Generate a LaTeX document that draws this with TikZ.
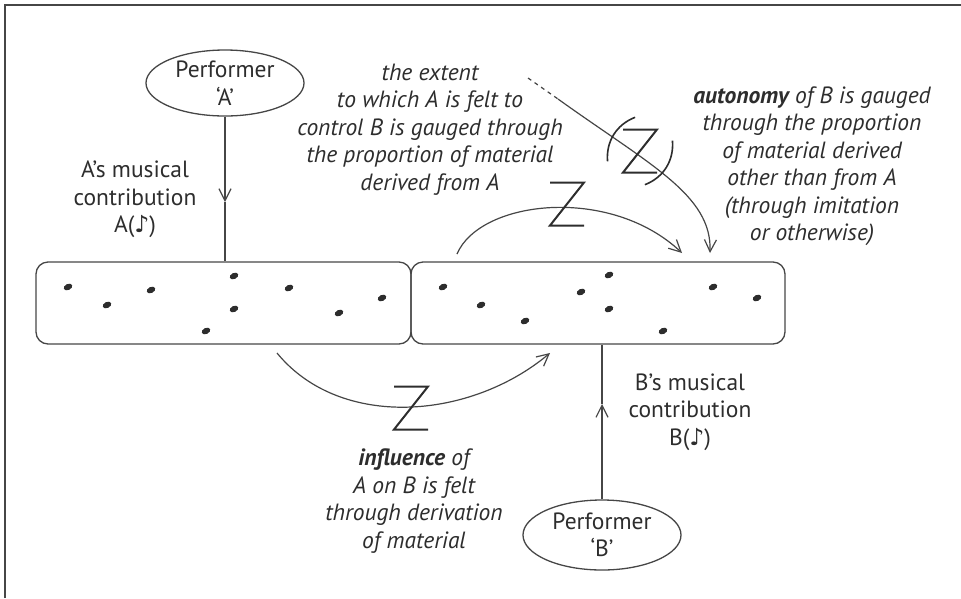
\documentclass[tikz,border=0pt]{standalone}
\usepackage{fontspec}
\setmainfont{PT Sans}
\newfontfamily\notefont{DejaVu Sans}
\usetikzlibrary{shapes.geometric, arrows.meta, positioning}
\definecolor{inkgray}{RGB}{45,45,45}
\definecolor{linegray}{RGB}{70,70,70}

\begin{document}
\begin{tikzpicture}[
        x=1pt, y=1pt,
        font=\fontsize{23.5}{27.5}\selectfont,
        perf/.style={ellipse, draw=linegray, line width=1.3pt, minimum width=158pt, minimum height=66pt, inner sep=0pt, align=center, text=inkgray},
        strip/.style={rectangle, rounded corners=12pt, draw=linegray, line width=1.3pt, minimum width=375pt, minimum height=82pt},
        txt/.style={align=center, text=inkgray},
        remark/.style={align=center, text=inkgray, font=\fontsize{23.5}{27.5}\selectfont\itshape},
        conn/.style={draw=linegray, line width=1.2pt},
        arr/.style={conn, -{Straight Barb[length=12pt,width=12pt]}},
        zline/.style={draw=inkgray, line width=2pt},
        zsym/.pic={\draw[zline] (-17,21.5) -- (17,21.5) -- (-17,-21.5) -- (17,-21.5);},
        zparen/.pic={
            \pic {zsym};
            \draw[zline, line width=1.6pt] (-22,26) .. controls (-34,10) and (-34,-10) .. (-22,-26);
            \draw[zline, line width=1.6pt] (22,26) .. controls (34,10) and (34,-10) .. (22,-26);
        }
    ]
        \useasboundingbox (0,0) rectangle (961,-598);
        \draw[line width=2pt, linegray] (5,-598) -- (5,-5) -- (961,-5);

        % performers and the two strips of material
        \node[perf] (perfA) at (225,-83) {Performer\\‘A’};
        \node[strip] (boxA) at (223.5,-303) {};
        \node[strip, minimum width=374pt] (boxB) at (598,-303) {};
        \node[perf, minimum height=70pt] (perfB) at (602,-535) {Performer\\‘B’};

        \foreach \x/\y in {68/287, 107/305, 151/290, 234/276, 234/309, 206/331, 289/288, 339/313, 382/298,
                           443/287, 481/305, 525/321, 581/292, 609/275, 609/309, 663/331, 713/287, 757/298}
            \fill[inkgray, rotate around={25:(\x,-\y)}] (\x,-\y) ellipse (4.5 and 3);

        % texts
        \node[txt] (contribA) at (135,-199.5) {A’s musical\\contribution\\A({\notefont ♪})};
        \node[txt] (contribB) at (690,-412) {B’s musical\\contribution\\B({\notefont ♪})};
        \node[remark] (influence) at (414,-501) {\textbf{influence} of\\A on B is felt\\through derivation\\of material};
        \node[remark] (extent) at (430,-129.5) {the extent\\to which A is felt to\\control B is gauged through\\the proportion of material\\derived from A};
        \node[remark] (autonomy) at (812,-166) {\textbf{autonomy} of B is gauged\\through the proportion\\of material derived\\other than from A\\(through imitation\\or otherwise)};

        % contributions
        \coordinate (midA) at (225,-202);
        \coordinate (midB) at (602,-404);
        \draw[arr] (perfA.south) -- (midA);
        \draw[conn] (midA) -- (perfA.south |- boxA.north);
        \draw[arr] (perfB.north) -- (midB);
        \draw[conn] (midB) -- (perfB.north |- boxB.south);

        % influence
        \coordinate (inflS) at (277,-353);
        \coordinate (inflE) at (550,-353);
        \draw[arr] (inflS) .. controls (340,-430) and (470,-420) .. (inflE);
        \pic at (411,-408) {zsym};

        % control
        \coordinate (ctrlS) at (457,-254);
        \coordinate (ctrlE) at (682,-253);
        \draw[arr] (ctrlS) .. controls (480,-200) and (610,-185) .. (ctrlE);
        \pic at (567,-204) {zsym};

        % autonomy
        \coordinate (autoS) at (528,-78);
        \coordinate (autoD) at (558,-99);
        \coordinate (autoE) at (710,-253);
        \draw[conn, dash pattern=on 4pt off 4pt] (autoS) -- (autoD);
        \draw[arr] (autoD) .. controls (650,-165) and (712,-195) .. (autoE);
        \pic[rotate=-32] at (640,-151) {zparen};
    \end{tikzpicture}
\end{document}
